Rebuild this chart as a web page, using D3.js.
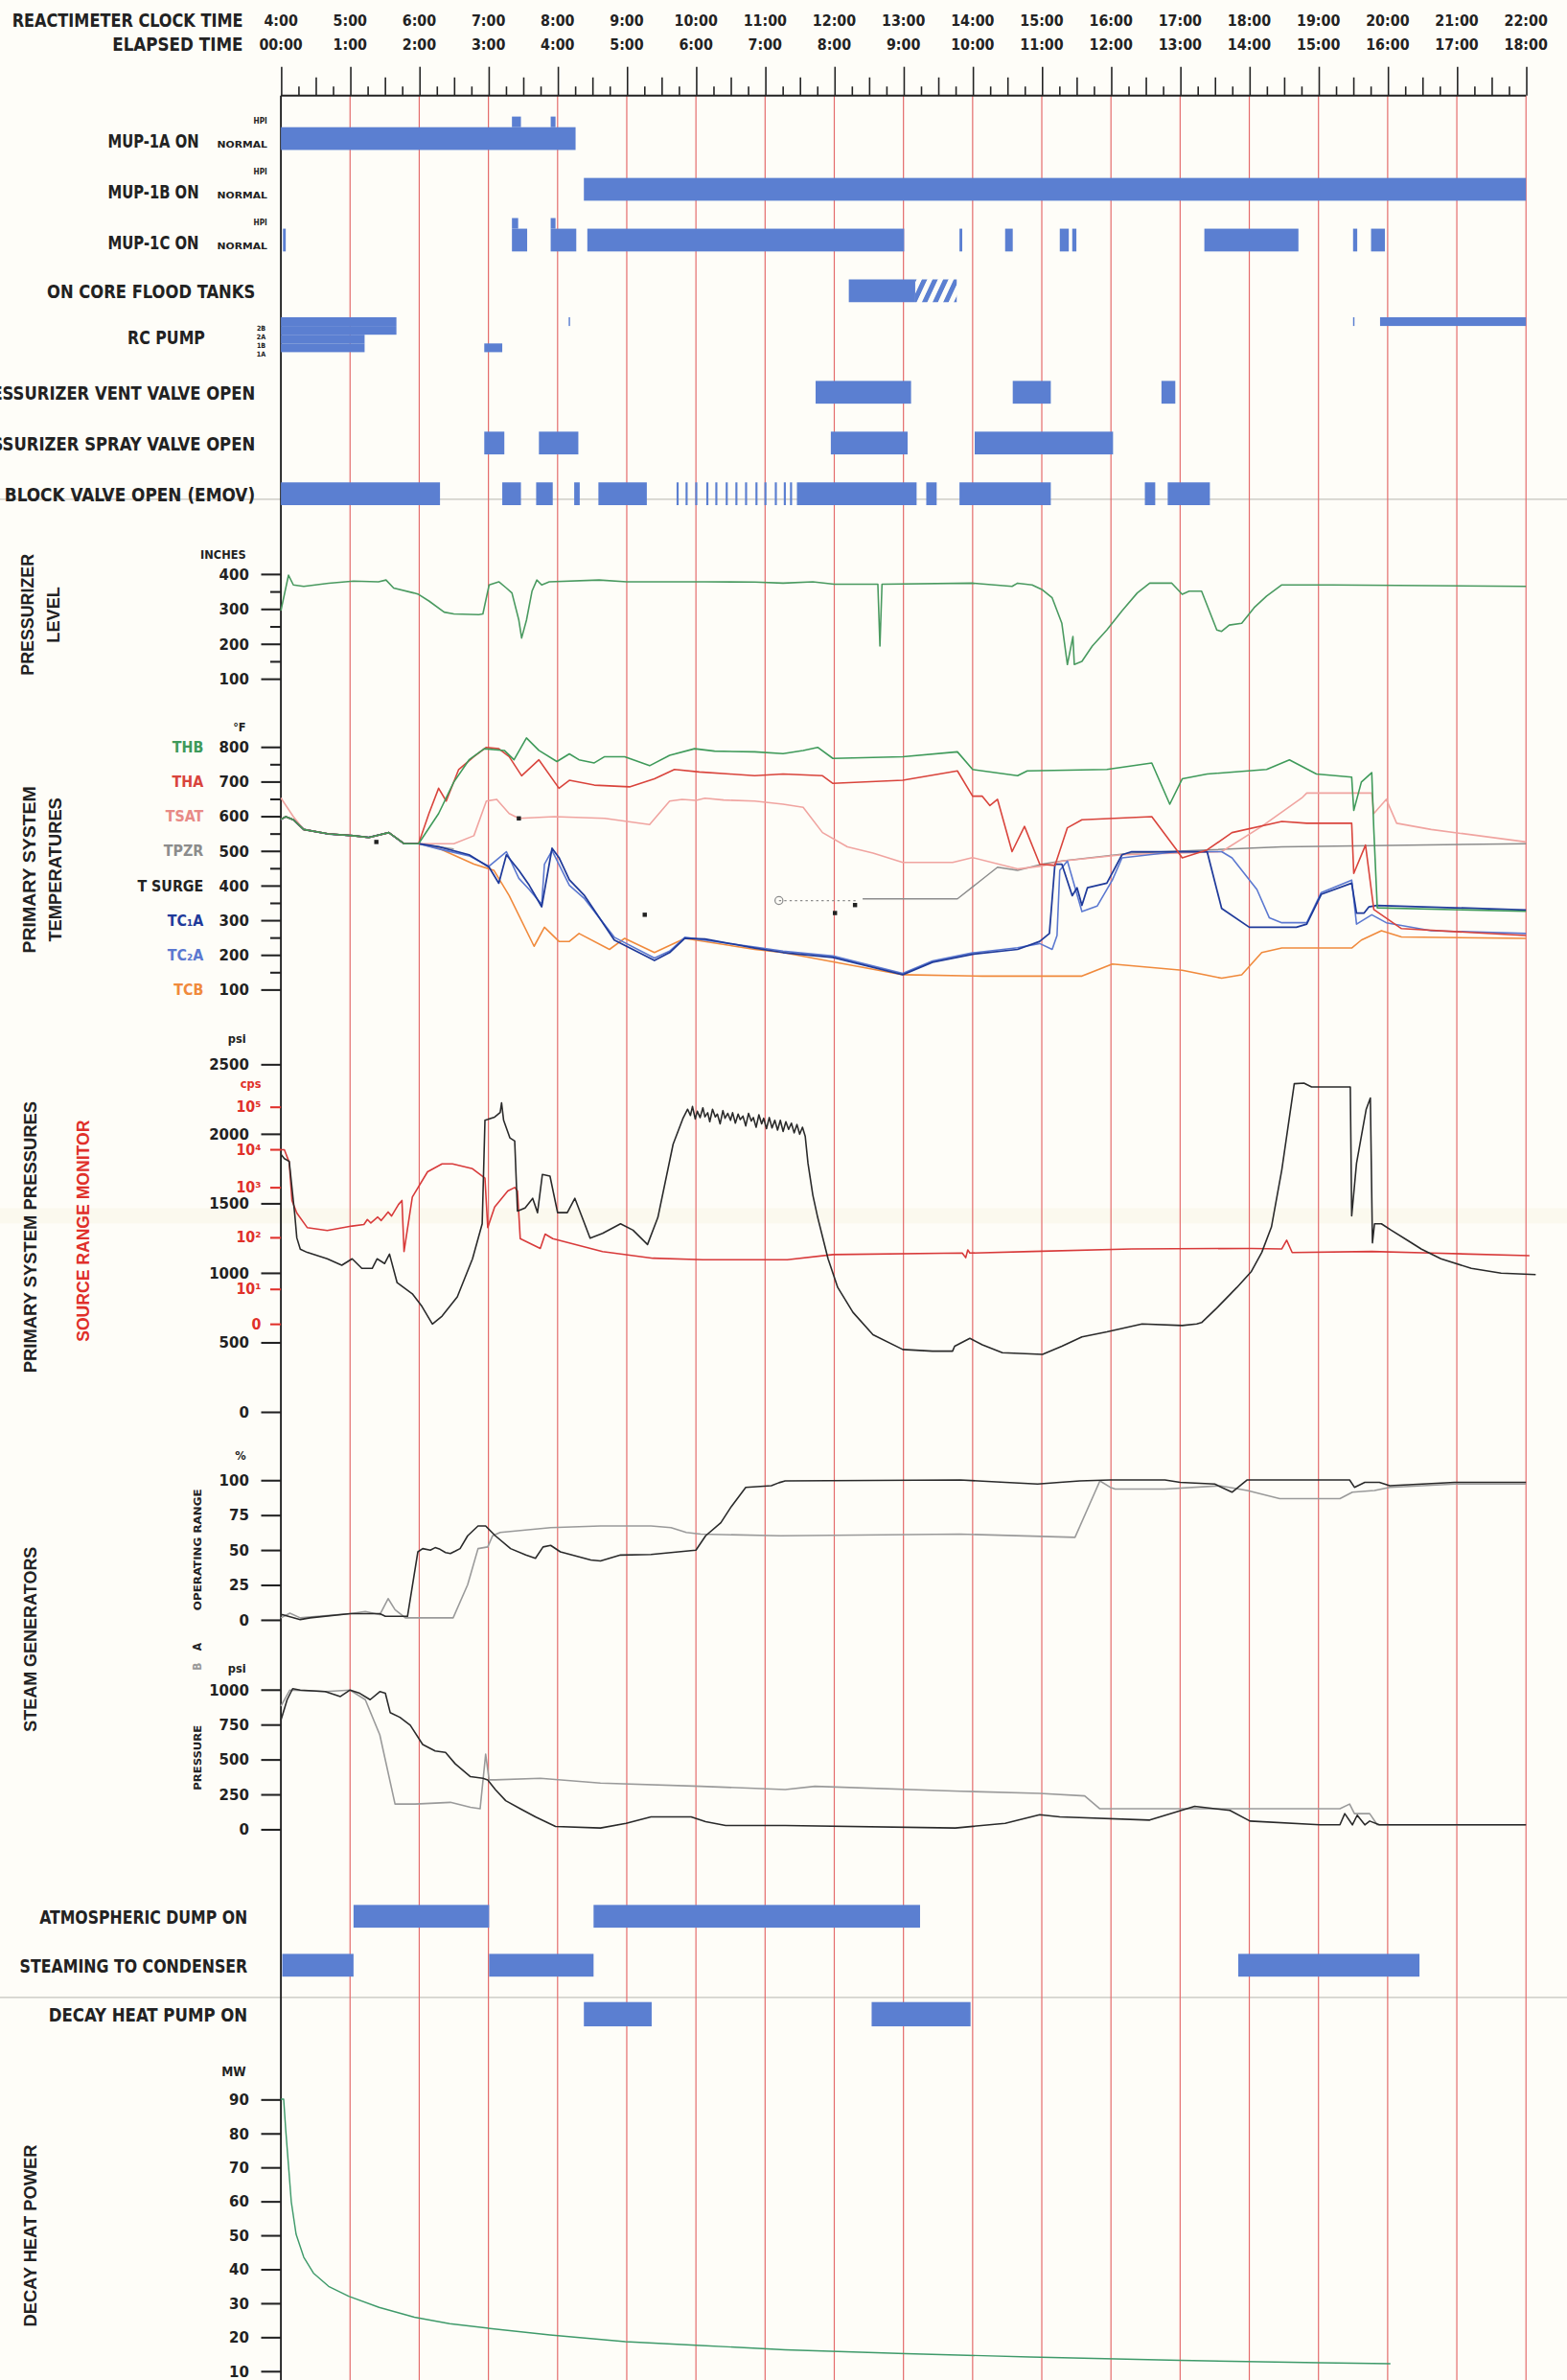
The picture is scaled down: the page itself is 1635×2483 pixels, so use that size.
<!DOCTYPE html>
<html>
<head>
<meta charset="utf-8">
<script src="https://cdn.jsdelivr.net/npm/d3@7"></script>
<style>
  html, body { margin: 0; padding: 0; background: #fefdf8; }
  svg { display: block; }
  svg text { font-family: "Liberation Sans Narrow", "DejaVu Sans Condensed", "Arial Narrow", sans-serif; font-weight: bold; }
</style>
</head>
<body>
<div id="chart"></div>
<script>
// ---- time labels ----
const clockTimes = ["4:00","5:00","6:00","7:00","8:00","9:00","10:00","11:00","12:00","13:00","14:00","15:00","16:00","17:00","18:00","19:00","20:00","21:00","22:00"];
const elapsedTimes = ["00:00","1:00","2:00","3:00","4:00","5:00","6:00","7:00","8:00","9:00","10:00","11:00","12:00","13:00","14:00","15:00","16:00","17:00","18:00"];

// ---- event rows (intervals in elapsed hours) ----
const eventRows = ["MUP-1A ON","MUP-1B ON","MUP-1C ON","ON CORE FLOOD TANKS","RC PUMP",
  "PRESSURIZER VENT VALVE OPEN","PRESSURIZER SPRAY VALVE OPEN","BLOCK VALVE OPEN (EMOV)"];
const mup1A = [[0,4.26]];
const mup1AHpi = [[3.34,3.47],[3.9,3.97]];
const mup1B = [[4.38,18]];
const mup1C = [[0.03,0.07],[3.34,3.56],[3.9,4.27],[4.43,9.01],[9.81,9.85],[10.47,10.58],[11.26,11.39],[11.44,11.5],[13.35,14.71],[15.5,15.56],[15.76,15.96]];
const mup1CHpi = [[3.34,3.43],[3.9,3.97]];
const coreFlood = [[8.21,9.17]];
const coreFloodHatch = [[9.17,9.77]];
const rcPump1 = [[0,1.67],[4.16,4.18],[15.5,15.52],[15.89,18]];
const rcPump2 = [[0,1.67]];
const rcPump3 = [[0,1.21]];
const rcPump4 = [[0,1.21],[2.94,3.2]];
const ventValve = [[7.73,9.11],[10.58,11.13],[12.73,12.93]];
const sprayValve = [[2.94,3.23],[3.73,4.3],[7.95,9.06],[10.03,12.03]];
const emov = [[0,2.3],[3.2,3.47],[3.69,3.93],[4.24,4.32],[4.59,5.29],[5.72,5.75],[5.85,5.88],[5.99,6.02],[6.15,6.18],[6.28,6.31],[6.43,6.46],[6.57,6.6],[6.71,6.74],[6.86,6.89],[6.99,7.02],[7.14,7.17],[7.27,7.3],[7.36,7.39],[7.46,9.19],[9.33,9.48],[9.81,11.13],[12.49,12.64],[12.82,13.43]];

const bottomRows = ["ATMOSPHERIC DUMP ON","STEAMING TO CONDENSER","DECAY HEAT PUMP ON"];
const atmDump = [[1.05,3.01],[4.52,9.24]];
const steamCond = [[0.02,1.05],[3.01,4.52],[13.84,16.46]];
const dhPump = [[4.38,5.36],[8.54,9.97]];

// ---- pressurizer level (inches) ----
const przLevel = [[0,294],[0.11,396],[0.18,368],[0.33,364],[0.69,373],[1.05,379],[1.41,377],[1.52,382],[1.63,359],[1.92,345],[1.99,341],[2.14,322],[2.36,290],[2.5,285],[2.86,283],[2.92,285],[3.01,368],[3.15,377],[3.26,359],[3.34,345],[3.44,267],[3.48,216],[3.55,267],[3.63,350],[3.7,382],[3.77,368],[3.88,377],[4.6,382],[5,377],[6.13,377],[6.85,376],[7.26,373],[7.69,377],[8.0,370],[8.63,370],[8.66,193],[8.69,370],[9.997,373],[10.57,364],[10.65,373],[10.86,368],[11.0,355],[11.15,331],[11.29,258],[11.37,140],[11.45,220],[11.47,140],[11.58,149],[11.73,193],[11.94,239],[12.16,294],[12.38,345],[12.56,373],[12.88,373],[13.03,341],[13.13,350],[13.31,350],[13.53,239],[13.6,235],[13.71,253],[13.89,258],[14.07,303],[14.25,336],[14.47,368],[15.19,368],[18,364]];

// ---- primary system temperatures (deg F) ----
const tempNames = ["THB","THA","TSAT","TPZR","T SURGE","TC\u2081A","TC\u2082A","TCB"];
const tempCommon = [[0,590],[0.07,598],[0.18,589],[0.33,561],[0.69,548],[1.05,543],[1.27,538],[1.56,552],[1.78,520],[1.99,520]];
const thb = tempCommon.concat([[2.28,607],[2.5,698],[2.72,762],[2.94,794],[3.23,789],[3.37,762],[3.55,825],[3.73,789],[3.99,757],[4.17,779],[4.31,762],[4.53,753],[4.68,771],[4.97,771],[5.33,745],[5.62,775],[5.98,794],[6.27,787],[6.85,785],[7.26,780],[7.55,789],[7.76,798],[7.98,766],[8.99,771],[9.78,785],[10.0,734],[10.65,716],[10.79,730],[11.94,734],[12.59,753],[12.85,634],[13.03,707],[13.39,721],[14.25,734],[14.58,762],[14.97,721],[15.48,712],[15.51,616],[15.62,698],[15.77,725],[15.8,560],[15.85,335],[18,325]]);
const tha = tempCommon.concat([[2.14,607],[2.28,680],[2.39,643],[2.57,734],[2.79,771],[2.97,798],[3.15,794],[3.3,771],[3.48,716],[3.73,762],[4.02,680],[4.17,703],[4.53,689],[5.04,684],[5.4,707],[5.69,734],[6.05,727],[6.49,721],[6.85,716],[7.26,721],[7.83,716],[7.98,694],[8.99,703],[9.78,730],[10.0,657],[10.14,657],[10.25,630],[10.36,648],[10.57,497],[10.75,570],[10.97,461],[11.19,457],[11.37,566],[11.58,589],[12.59,598],[12.95,502],[13.03,479],[13.39,502],[13.75,552],[14.47,584],[14.83,579],[15.48,579],[15.51,434],[15.68,516],[15.8,330],[16.2,275],[18,255]]);
const tsat = [[0,652],[0.18,598],[0.33,561],[0.69,548],[1.05,543],[1.27,538],[1.56,552],[1.78,520],[1.99,520],[2.5,520],[2.79,543],[2.97,643],[3.12,648],[3.3,607],[3.44,593],[3.95,598],[4.68,593],[5.33,575],[5.62,643],[5.8,648],[6.0,645],[6.13,651],[6.4,646],[6.85,643],[7.26,634],[7.55,625],[7.83,552],[8.19,511],[8.56,493],[8.99,466],[9.71,466],[9.997,480],[10.65,447],[11.01,456],[11.3,470],[12.16,488],[13.6,497],[14.18,570],[14.76,652],[14.83,666],[15.77,666],[15.8,607],[15.98,648],[16.13,579],[16.63,561],[18,525]];
const tpzrEarly = tempCommon.concat([[2.5,505]]);
const tpzrDotted = [[7.2,356],[8.34,356]];
const tpzr = [[8.41,361],[9.78,361],[10.36,452],[10.65,443],[11.01,461],[11.29,470],[12.3,493],[13.39,502],[14.47,511],[18,520]];
const tSurge = [[1.38,525],[3.44,593],[5.26,315],[8.01,320],[8.3,343]];
const tc1a = tempCommon.concat([[2.28,511],[2.72,488],[3.01,452],[3.15,406],[3.26,488],[3.44,443],[3.59,400],[3.77,338],[3.92,507],[4.02,480],[4.17,416],[4.39,370],[4.82,242],[5.4,183],[5.62,206],[5.84,247],[6.13,245],[6.85,219],[7.26,206],[7.98,192],[8.99,142],[9.42,178],[9.997,201],[10.65,215],[10.97,238],[11.11,261],[11.19,461],[11.29,461],[11.44,370],[11.51,393],[11.58,342],[11.66,393],[11.94,406],[12.16,488],[12.3,497],[13.39,497],[13.6,333],[14.0,279],[14.68,279],[14.83,288],[15.04,374],[15.48,406],[15.55,320],[15.66,320],[15.73,338],[15.84,342],[18,329]]);
const tc2a = tempCommon.concat([[2.28,505],[2.72,485],[3.01,455],[3.26,497],[3.44,420],[3.59,388],[3.77,345],[3.81,461],[3.92,500],[4.17,400],[4.39,361],[4.82,250],[5.4,190],[5.62,210],[5.84,250],[6.85,222],[7.26,210],[7.98,196],[8.99,146],[9.42,182],[9.997,205],[10.65,220],[10.97,232],[11.15,215],[11.22,255],[11.26,443],[11.37,470],[11.58,324],[11.8,340],[12.02,415],[12.16,479],[12.95,497],[13.6,497],[13.75,479],[14.11,388],[14.29,306],[14.47,292],[14.83,292],[15.04,379],[15.48,415],[15.55,288],[15.77,315],[15.98,292],[16.63,269],[18,261]]);
const tcb = tempCommon.concat([[2.28,507],[2.79,461],[3.08,443],[3.3,370],[3.66,224],[3.81,279],[4.02,238],[4.17,238],[4.31,261],[4.75,215],[4.97,247],[5.4,206],[5.84,247],[6.85,215],[7.26,206],[8.99,142],[10.14,138],[11.58,138],[12.02,173],[13.03,155],[13.6,132],[13.89,142],[14.18,206],[14.47,219],[15.48,219],[15.62,242],[15.91,269],[16.2,251],[18,247]]);

// ---- primary system pressure (psi) ----
const rcsPressure = [[0,1850],[0.05,1820],[0.12,1800],[0.2,1420],[0.23,1250],[0.28,1168],[0.38,1145],[0.67,1099],[0.88,1053],[1.03,1099],[1.17,1030],[1.32,1030],[1.39,1099],[1.5,1065],[1.57,1133],[1.68,927],[1.9,847],[2.04,756],[2.19,630],[2.33,687],[2.55,825],[2.77,1099],[2.91,1351],[2.95,2095],[3.09,2118],[3.17,2152],[3.19,2221],[3.22,2095],[3.31,1969],[3.38,1946],[3.42,1442],[3.53,1465],[3.64,1534],[3.71,1431],[3.78,1706],[3.89,1694],[4.0,1431],[4.14,1431],[4.25,1534],[4.47,1248],[4.65,1282],[4.91,1351],[5.09,1305],[5.3,1202],[5.45,1397],[5.67,1923],[5.81,2106],[5.88,2175],[5.92,2130],[5.95,2195],[5.99,2105],[6.02,2160],[6.06,2115],[6.1,2185],[6.13,2120],[6.17,2150],[6.2,2085],[6.24,2175],[6.28,2120],[6.31,2140],[6.35,2070],[6.39,2165],[6.42,2110],[6.46,2145],[6.5,2095],[6.53,2150],[6.57,2075],[6.61,2140],[6.64,2100],[6.68,2125],[6.72,2055],[6.76,2145],[6.8,2090],[6.83,2115],[6.87,2045],[6.91,2135],[6.95,2070],[6.98,2110],[7.02,2035],[7.06,2115],[7.1,2040],[7.14,2095],[7.18,2025],[7.22,2095],[7.26,2015],[7.3,2085],[7.34,2030],[7.38,2075],[7.42,2005],[7.46,2065],[7.5,1995],[7.54,2045],[7.58,1980],[7.62,1786],[7.69,1557],[7.76,1397],[7.91,1099],[8.05,893],[8.27,714],[8.56,553],[8.99,447],[9.42,435],[9.71,435],[9.74,470],[9.96,527],[10.14,481],[10.43,424],[11.01,412],[11.29,470],[11.58,538],[11.94,573],[12.45,630],[13.03,619],[13.24,630],[13.31,640],[13.53,745],[13.82,893],[14.03,1008],[14.18,1145],[14.32,1328],[14.47,1740],[14.65,2358],[14.79,2362],[14.9,2335],[15.46,2335],[15.48,1408],[15.55,1786],[15.69,2175],[15.75,2255],[15.78,1214],[15.81,1351],[15.91,1351],[16.05,1305],[16.27,1237],[16.49,1168],[16.77,1099],[17.21,1030],[17.64,996],[18.14,985]];
// source range monitor, log10(cps)
const srmTickLabels = ["0","10\u00b9","10\u00b2","10\u00b3","10\u2074","10\u2075"];
const srmCounts = [[0,3.98],[0.05,3.98],[0.12,3.65],[0.16,2.73],[0.23,2.48],[0.38,2.19],[0.67,2.13],[1.03,2.22],[1.2,2.25],[1.25,2.35],[1.3,2.28],[1.4,2.4],[1.45,2.33],[1.55,2.5],[1.6,2.42],[1.7,2.65],[1.75,2.73],[1.78,1.72],[1.9,2.8],[2.12,3.4],[2.33,3.61],[2.48,3.61],[2.77,3.48],[2.95,3.23],[2.99,2.19],[3.09,2.6],[3.28,2.92],[3.38,2.99],[3.42,2.92],[3.46,1.97],[3.75,1.78],[3.82,2.06],[3.93,1.97],[4.65,1.72],[5.38,1.59],[6.1,1.56],[6.83,1.56],[7.32,1.56],[7.98,1.66],[9.85,1.69],[9.9,1.6],[9.93,1.75],[9.96,1.69],[10.86,1.72],[12.3,1.77],[14.03,1.78],[14.47,1.77],[14.54,1.94],[14.62,1.7],[15.77,1.72],[16.63,1.69],[18.05,1.64]];

// ---- steam generators ----
const sgRangeA = [[0,3],[0.02,3.5],[0.28,0],[0.42,1.2],[1.0,4.2],[1.43,4.2],[1.51,2.3],[1.83,2.3],[1.98,48.5],[2.05,50.8],[2.16,49.7],[2.23,51.5],[2.3,50.3],[2.38,48],[2.45,47.3],[2.52,49],[2.59,50.8],[2.7,60],[2.85,67],[2.96,67],[3.1,60],[3.32,50.8],[3.54,46.2],[3.68,43.9],[3.79,52],[3.9,53.1],[4.04,48.5],[4.48,42.7],[4.62,42],[4.91,46.2],[5.35,46.6],[6.0,49.7],[6.14,60],[6.36,69.3],[6.51,80.8],[6.72,94.7],[7.09,95.8],[7.2,98],[7.29,99.3],[9.82,100],[10.47,98.2],[10.94,97],[11.26,98.2],[11.55,99.3],[11.99,100],[12.78,100],[13.0,98.2],[13.5,97],[13.75,91.2],[13.97,100],[15.45,100],[15.52,94.7],[15.67,98.2],[15.88,98.2],[16.03,95.8],[16.97,98.2],[18,98.2]];
const sgRangeB = [[0,1.2],[0.13,4.6],[0.28,1.2],[1.0,4.2],[1.22,5.8],[1.43,3.5],[1.55,15],[1.65,7],[1.8,1.2],[2.49,1.2],[2.7,25],[2.85,50.8],[2.99,52],[3.06,60],[3.17,62.4],[3.9,65.8],[4.62,67],[5.35,67],[5.64,65.8],[5.86,62.4],[6.07,61.2],[7.22,60],[9.82,61.2],[11.48,58.9],[11.84,99.3],[11.99,94.7],[12.06,93.5],[12.78,93.5],[13.57,95.8],[13.97,92.4],[14.44,86.6],[15.31,86.6],[15.49,91.2],[15.81,92.4],[16.03,94.7],[16.97,97],[18,97]];
const sgPressA = [[0,780],[0.02,811],[0.09,926],[0.17,1005],[0.28,995],[0.64,984],[0.86,949],[1.0,995],[1.14,972],[1.29,926],[1.43,984],[1.51,972],[1.58,834],[1.72,800],[1.87,743],[2.05,605],[2.23,559],[2.38,548],[2.52,467],[2.74,375],[2.92,363],[2.99,352],[3.1,283],[3.25,203],[3.46,145],[3.68,87],[3.97,18],[4.62,7],[4.99,41],[5.35,87],[5.93,87],[6.14,53],[6.43,25],[7.29,25],[9.75,7],[10.47,41],[10.97,103],[11.26,87],[12.56,64],[13.21,163],[13.72,133],[14.01,57],[15.02,30],[15.31,30],[15.38,110],[15.49,30],[15.56,99],[15.67,30],[15.74,57],[15.88,30],[18,30]];
const sgPressB = [[0,880],[0.13,995],[0.64,984],[1.0,995],[1.22,926],[1.43,674],[1.65,179],[1.94,179],[2.45,191],[2.74,156],[2.88,145],[2.96,536],[3.01,352],[3.1,352],[3.75,363],[4.62,329],[6.07,306],[7.29,283],[7.72,306],[9.82,271],[10.97,255],[11.62,237],[11.84,145],[15.31,145],[15.45,179],[15.52,110],[15.74,110],[15.85,30],[18,30]];

// ---- decay heat power (MW) ----
const decayHeat = [[0,90],[0.04,90],[0.07,80.9],[0.11,70.4],[0.15,59.8],[0.22,50.2],[0.33,43.5],[0.47,38.8],[0.69,34.9],[0.98,32],[1.42,28.7],[1.93,25.8],[2.44,23.9],[3.02,22.5],[3.89,20.6],[4.98,18.6],[6.07,17.5],[7.29,16.2],[9.03,15.1],[10.83,14.1],[13.0,13.1],[15.02,12.4],[16.04,12.1]];

// ================= drawing =================
const W = 1032, H = 1568;
const BAR = "#5b7fd1", INK = "#222";
const svg = d3.select("#chart").append("svg")
  .attr("width", 1635).attr("height", 2483)
  .attr("viewBox", `0 0 ${W} ${H}`)
  .attr("preserveAspectRatio", "none");

svg.append("rect").attr("width", W).attr("height", H).attr("fill", "#fefdf8");

const defs = svg.append("defs");
defs.append("pattern").attr("id", "hatch").attr("patternUnits", "userSpaceOnUse")
  .attr("width", 7).attr("height", 16).attr("patternTransform", "skewX(-25)")
  .append("rect").attr("width", 3.5).attr("height", 16).attr("fill", BAR);

const x = d3.scaleLinear().domain([0, 18]).range([185, 1005]);

function txt(xx, yy, s, o = {}) {
  const t = svg.append("text").attr("x", xx).attr("y", yy).text(s)
    .attr("text-anchor", o.anchor || "end")
    .attr("font-size", o.size || 12)
    .attr("fill", o.color || INK);
  if (o.len) t.attr("textLength", o.len).attr("lengthAdjust", "spacingAndGlyphs");
  if (o.family) t.style("font-family", o.family);
  if (o.rotate) t.attr("dy", "0.35em").attr("transform", `rotate(-90,${xx},${yy})`);
  return t;
}

// fold lines of the paper
[329, 1316].forEach(yy => svg.append("line").attr("x1", 0).attr("x2", W).attr("y1", yy).attr("y2", yy)
  .attr("stroke", "#c4c4be").attr("stroke-width", 0.8));
svg.append("rect").attr("x", 0).attr("y", 796).attr("width", W).attr("height", 10).attr("fill", "#f6f1dc").attr("opacity", 0.35);

// hour grid
svg.append("g").selectAll("line").data(d3.range(1, 19)).join("line")
  .attr("x1", d => x(d)).attr("x2", d => x(d)).attr("y1", 63).attr("y2", H)
  .attr("stroke", "#e46b6b").attr("stroke-width", 0.75);
svg.append("line").attr("x1", x(0)).attr("x2", x(0)).attr("y1", 63).attr("y2", H)
  .attr("stroke", INK).attr("stroke-width", 1.2);

// header
txt(160, 17.5, "REACTIMETER CLOCK TIME", { size: 12.5, len: 152 });
txt(160, 33.5, "ELAPSED TIME", { size: 12.5, len: 86 });
clockTimes.forEach((t, i) => txt(x(i), 17, t, { anchor: "middle", size: 10 }));
elapsedTimes.forEach((t, i) => txt(x(i), 33, t, { anchor: "middle", size: 10 }));

const tickG = svg.append("g").attr("transform", "translate(0,63)").attr("color", INK);
tickG.append("line").attr("x1", x(0)).attr("x2", x(18)).attr("stroke", INK).attr("stroke-width", 1.4);
[[d3.range(0, 19), 19], [d3.range(0.5, 18, 1), 12], [d3.range(0.25, 18, 0.5), 6]].forEach(([vals, size]) => {
  tickG.append("g").call(d3.axisTop(x).tickValues(vals).tickSize(size).tickFormat(""))
    .call(g => g.select(".domain").remove())
    .selectAll("line").attr("stroke-width", 1);
});

// event bars
function bars(data, yTop, h, fill = BAR) {
  svg.append("g").selectAll("rect").data(data).join("rect")
    .attr("x", d => x(d[0])).attr("width", d => Math.max(0.9, x(d[1]) - x(d[0])))
    .attr("y", yTop).attr("height", h).attr("fill", fill);
}
const rowY = d3.scalePoint().domain(eventRows).range([91.3, 325.3]);
const BH = 15;
const labelLen = { "MUP-1A ON": 60, "MUP-1B ON": 60, "MUP-1C ON": 60, "ON CORE FLOOD TANKS": 137, "RC PUMP": 51,
  "PRESSURIZER VENT VALVE OPEN": 189, "PRESSURIZER SPRAY VALVE OPEN": 196, "BLOCK VALVE OPEN (EMOV)": 165 };
eventRows.forEach(r => {
  const c = rowY(r);
  if (r.startsWith("MUP")) {
    txt(131, c + 6, r, { size: 12.5, len: labelLen[r] });
    txt(176, c + 6, "NORMAL", { size: 6, len: 33 });
    txt(176, c - 10, "HPI", { size: 6, len: 9 });
  } else if (r === "RC PUMP") {
    txt(135, c + 2, r, { size: 12.5, len: labelLen[r] });
    ["2B", "2A", "1B", "1A"].forEach((s, i) => txt(175, c - 11.5 + i * 5.75 + 4.2, s, { size: 4.5 }));
  } else {
    txt(168, c + 5, r, { size: 12.5, len: labelLen[r] });
  }
});
const barTop = r => rowY(r) - BH / 2;
bars(mup1A, barTop("MUP-1A ON"), BH);
bars(mup1AHpi, barTop("MUP-1A ON") - 7, 7);
bars(mup1B, barTop("MUP-1B ON"), BH);
bars(mup1C, barTop("MUP-1C ON"), BH);
bars(mup1CHpi, barTop("MUP-1C ON") - 7, 7);
bars(coreFlood, barTop("ON CORE FLOOD TANKS"), BH);
bars(coreFloodHatch, barTop("ON CORE FLOOD TANKS"), BH, "url(#hatch)");
const rcTop = rowY("RC PUMP") - 16;
[rcPump1, rcPump2, rcPump3, rcPump4].forEach((d, i) => bars(d, rcTop + i * 5.75, 5.75));
bars(ventValve, barTop("PRESSURIZER VENT VALVE OPEN"), BH);
bars(sprayValve, barTop("PRESSURIZER SPRAY VALVE OPEN"), BH);
bars(emov, barTop("BLOCK VALVE OPEN (EMOV)"), BH);

const botY = d3.scalePoint().domain(bottomRows).range([1262.5, 1327]);
const botLen = { "ATMOSPHERIC DUMP ON": 137, "STEAMING TO CONDENSER": 150, "DECAY HEAT PUMP ON": 131 };
bottomRows.forEach(r => txt(163, botY(r) + 5, r, { size: 12.5, len: botLen[r] }));
bars(atmDump, botY(bottomRows[0]) - 7.5, 15);
bars(steamCond, botY(bottomRows[1]) - 7.5, 15);
bars(dhPump, botY(bottomRows[2]) - 8, 16);

// scales for the trend panels
const levelY = d3.scaleLinear().domain([0, 400]).range([470, 378]);
const tempY = d3.scaleLinear().domain([0, 800]).range([674.6, 491.9]);
const psiY = d3.scaleLinear().domain([0, 2500]).range([930, 701]);
const srmY = d3.scaleLinear().domain([0, 1, 2, 3, 4, 5]).range([872, 849, 815, 782, 757, 729]);
const orY = d3.scaleLinear().domain([0, 100]).range([1067, 975]);
const sgpY = d3.scaleLinear().domain([0, 1000]).range([1205, 1113]);
const mwY = d3.scaleLinear().domain([10, 90]).range([1562, 1383]);

function leftAxis(scale, vals, fmt, o = {}) {
  const g = svg.append("g").attr("transform", "translate(185,0)")
    .call(d3.axisLeft(scale).tickValues(vals).tickSize(o.size || 13).tickPadding(o.pad || 8).tickFormat(fmt));
  g.select(".domain").remove();
  g.attr("color", o.color || INK).attr("font-size", o.fs || 10.5);
  g.selectAll("line").attr("stroke-width", 1.3);
  return g;
}
leftAxis(levelY, [100, 200, 300, 400], d3.format("d"));
leftAxis(levelY, [150, 250, 350], "", { size: 7 });
leftAxis(tempY, d3.range(100, 801, 100), d3.format("d"));
leftAxis(tempY, d3.range(150, 800, 100), "", { size: 7 });
leftAxis(psiY, d3.range(0, 2501, 500), d3.format("d"));
leftAxis(srmY, [0, 1, 2, 3, 4, 5], d => srmTickLabels[d], { size: 7, pad: 6, color: "#e0302a", fs: 10 });
leftAxis(orY, [0, 25, 50, 75, 100], d3.format("d"));
leftAxis(sgpY, [0, 250, 500, 750, 1000], d3.format("d"));
leftAxis(mwY, d3.range(10, 91, 10), d3.format("d"));

// units
txt(162, 368, "INCHES", { size: 7.5, len: 30 });
txt(162, 482, "\u00b0F", { size: 8 });
txt(162, 687, "psi", { size: 8 });
txt(172, 717, "cps", { size: 8, color: "#e0302a" });
txt(162, 962, "%", { size: 8 });
txt(162, 1102, "psi", { size: 8 });
txt(162, 1368, "MW", { size: 8.5 });

// temperature legend
const tempColors = ["#3f9a5a", "#d9443c", "#f0a4a0", "#8c8c8c", "#222", "#1f3a9a", "#5b78d0", "#f08a3c"];
tempNames.forEach((n, i) => txt(134, tempY(800 - i * 100) + 3.8, n, { size: 10, color: i === 2 ? "#e88a86" : tempColors[i] }));

// rotated section titles
const wide = "'Liberation Sans', 'DejaVu Sans', sans-serif";
txt(18, 405, "PRESSURIZER", { anchor: "middle", size: 12, len: 80, rotate: true, family: wide });
txt(35, 405, "LEVEL", { anchor: "middle", size: 12, len: 37, rotate: true, family: wide });
txt(19, 573, "PRIMARY SYSTEM", { anchor: "middle", size: 12, len: 110, rotate: true, family: wide });
txt(36, 573, "TEMPERATURES", { anchor: "middle", size: 12, len: 95, rotate: true, family: wide });
txt(20, 815, "PRIMARY SYSTEM PRESSURES", { anchor: "middle", size: 12, len: 179, rotate: true, family: wide });
txt(54.5, 811, "SOURCE RANGE MONITOR", { anchor: "middle", size: 12, len: 146, rotate: true, family: wide, color: "#e0302a" });
txt(20, 1080, "STEAM GENERATORS", { anchor: "middle", size: 12, len: 122, rotate: true, family: wide });
txt(130, 1021, "OPERATING RANGE", { anchor: "middle", size: 7, len: 80, rotate: true });
txt(130, 1158, "PRESSURE", { anchor: "middle", size: 7, len: 43, rotate: true });
txt(130, 1085, "A", { anchor: "middle", size: 7.5, rotate: true });
txt(130, 1098, "B", { anchor: "middle", size: 7.5, rotate: true, color: "#999" });
txt(20, 1473, "DECAY HEAT POWER", { anchor: "middle", size: 12, len: 120, rotate: true, family: wide });

// trend lines
function trend(data, yScale, color, w = 1.0, dash = null) {
  const p = svg.append("path").datum(data)
    .attr("fill", "none").attr("stroke", color).attr("stroke-width", w)
    .attr("stroke-linejoin", "round")
    .attr("d", d3.line().x(d => x(d[0])).y(d => yScale(d[1])));
  if (dash) p.attr("stroke-dasharray", dash);
  return p;
}
trend(przLevel, levelY, "#4a9a60", 1.0);

trend(tpzrEarly, tempY, "#9a9a9a", 0.9);
trend(tpzrDotted, tempY, "#8c8c8c", 0.8, "1.5,2");
svg.append("circle").attr("cx", x(tpzrDotted[0][0])).attr("cy", tempY(tpzrDotted[0][1])).attr("r", 2.6)
  .attr("fill", "none").attr("stroke", "#8c8c8c").attr("stroke-width", 0.8);
trend(tpzr, tempY, "#8c8c8c", 0.9);
trend(tsat, tempY, "#f0a4a0", 1.0);
trend(tcb, tempY, "#f08a3c", 1.0);
trend(tc2a, tempY, "#5b78d0", 1.0);
trend(tc1a, tempY, "#1f3a9a", 1.1);
trend(tha, tempY, "#d9443c", 1.0);
trend(thb, tempY, "#3f9a5a", 1.0);
svg.append("g").selectAll("rect").data(tSurge).join("rect")
  .attr("x", d => x(d[0]) - 1.4).attr("y", d => tempY(d[1]) - 1.4)
  .attr("width", 2.8).attr("height", 2.8).attr("fill", "#222");

trend(srmCounts, srmY, "#d83a3a", 1.0);
trend(rcsPressure, psiY, "#2a2a2a", 1.0);

trend(sgRangeB, orY, "#9a9a9a", 1.0);
trend(sgRangeA, orY, "#2a2a2a", 1.0);
trend(sgPressB, sgpY, "#9a9a9a", 1.0);
trend(sgPressA, sgpY, "#2a2a2a", 1.0);

trend(decayHeat, mwY, "#3f9a6a", 0.9);
</script>
</body>
</html>
